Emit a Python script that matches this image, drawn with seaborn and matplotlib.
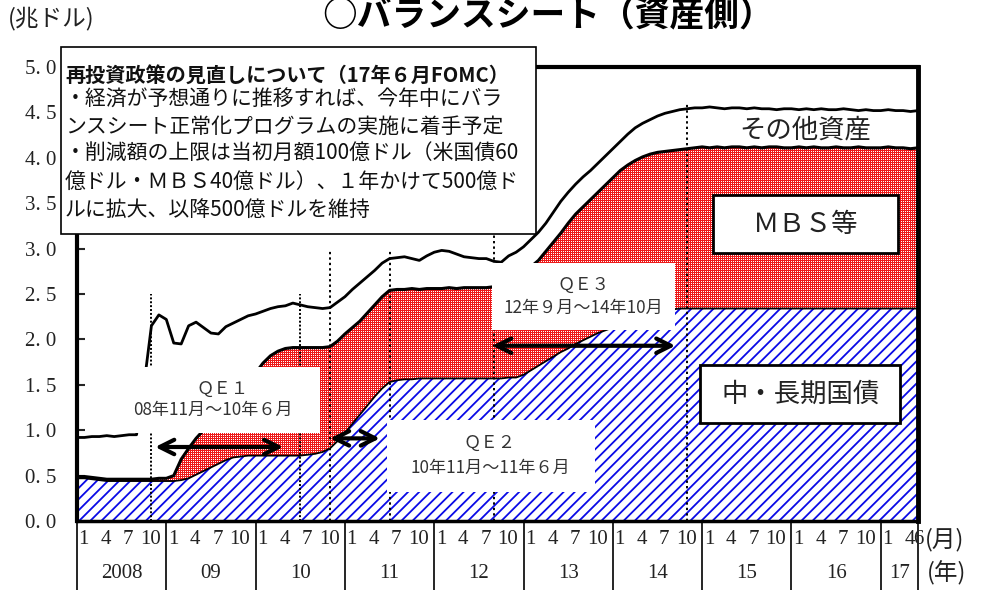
import numpy as np
import pandas as pd
import matplotlib
matplotlib.use("Agg")
import matplotlib.pyplot as plt
import seaborn as sns
from matplotlib.patches import Rectangle

sns.set_theme(style="white")
plt.rcParams['font.family'] = ['Noto Sans CJK JP', 'DejaVu Sans']
SERIF = ['Liberation Serif', 'DejaVu Serif']

# ---- data (trillion USD, monthly, Jan 2008 - Jun 2017) ----
years = ["2008", "09", "10", "11", "12", "13", "14", "15", "16", "17"]
month_marks = [1, 4, 7, 10]

# Treasury notes & bonds
tsy = [
    0.47, 0.47, 0.46, 0.45, 0.44, 0.44, 0.44, 0.44, 0.44, 0.44, 0.44, 0.44,  # 2008
    0.44, 0.44, 0.45, 0.47, 0.51, 0.55, 0.59, 0.63, 0.67, 0.70, 0.71, 0.72,  # 2009
    0.72, 0.72, 0.72, 0.72, 0.72, 0.72, 0.72, 0.73, 0.74, 0.76, 0.80, 0.88,  # 2010
    0.97, 1.07, 1.17, 1.27, 1.37, 1.46, 1.53, 1.55, 1.56, 1.56, 1.57, 1.57,  # 2011
    1.57, 1.57, 1.57, 1.57, 1.57, 1.57, 1.57, 1.57, 1.57, 1.57, 1.58, 1.58,  # 2012
    1.61, 1.66, 1.71, 1.76, 1.81, 1.86, 1.90, 1.95, 1.99, 2.03, 2.07, 2.10,  # 2013
    2.13, 2.16, 2.19, 2.22, 2.25, 2.27, 2.29, 2.31, 2.33, 2.34, 2.34, 2.34,  # 2014
    2.34, 2.34, 2.34, 2.34, 2.34, 2.34, 2.34, 2.34, 2.34, 2.34, 2.34, 2.34,  # 2015
    2.34, 2.34, 2.34, 2.34, 2.34, 2.34, 2.34, 2.34, 2.34, 2.34, 2.34, 2.34,  # 2016
    2.34, 2.34, 2.34, 2.34, 2.34, 2.34,                                      # 2017
]

# Treasuries + MBS and agency debt (cumulative)
tsy_mbs = [
    0.49, 0.49, 0.48, 0.47, 0.46, 0.46, 0.46, 0.46, 0.46, 0.46, 0.46, 0.47,  # 2008
    0.47, 0.50, 0.68, 0.80, 0.91, 1.00, 1.09, 1.18, 1.27, 1.36, 1.45, 1.54,  # 2009
    1.63, 1.74, 1.82, 1.87, 1.90, 1.91, 1.91, 1.91, 1.91, 1.91, 1.92, 1.98,  # 2010
    2.06, 2.13, 2.20, 2.29, 2.38, 2.47, 2.54, 2.55, 2.55, 2.56, 2.55, 2.56,  # 2011
    2.56, 2.56, 2.57, 2.56, 2.57, 2.57, 2.57, 2.57, 2.58, 2.60, 2.64, 2.69,  # 2012
    2.74, 2.80, 2.87, 2.97, 3.07, 3.17, 3.28, 3.38, 3.46, 3.54, 3.62, 3.70,  # 2013
    3.78, 3.86, 3.92, 3.97, 4.01, 4.04, 4.06, 4.07, 4.08, 4.09, 4.10, 4.11,  # 2014
    4.12, 4.11, 4.12, 4.11, 4.12, 4.12, 4.11, 4.12, 4.11, 4.12, 4.12, 4.11,  # 2015
    4.11, 4.12, 4.11, 4.12, 4.11, 4.11, 4.12, 4.11, 4.11, 4.12, 4.11, 4.11,  # 2016
    4.11, 4.12, 4.11, 4.11, 4.10, 4.11,                                      # 2017
]

# Total assets
total = [
    0.92, 0.92, 0.93, 0.93, 0.94, 0.93, 0.94, 0.95, 0.95, 1.50, 2.15, 2.27,  # 2008
    2.22, 1.96, 1.95, 2.15, 2.19, 2.13, 2.07, 2.06, 2.14, 2.18, 2.22, 2.26,  # 2009
    2.28, 2.31, 2.34, 2.36, 2.37, 2.40, 2.38, 2.36, 2.35, 2.34, 2.35, 2.41,  # 2010
    2.47, 2.55, 2.62, 2.69, 2.76, 2.84, 2.89, 2.90, 2.91, 2.89, 2.87, 2.92,  # 2011
    2.96, 2.98, 2.97, 2.94, 2.91, 2.90, 2.89, 2.89, 2.86, 2.85, 2.92, 2.96,  # 2012
    3.02, 3.10, 3.18, 3.28, 3.40, 3.52, 3.62, 3.71, 3.79, 3.86, 3.94, 4.02,  # 2013
    4.10, 4.18, 4.26, 4.33, 4.38, 4.42, 4.46, 4.49, 4.51, 4.53, 4.54, 4.55,  # 2014
    4.55, 4.56, 4.55, 4.54, 4.55, 4.55, 4.54, 4.55, 4.54, 4.54, 4.53, 4.54,  # 2015
    4.54, 4.53, 4.54, 4.53, 4.54, 4.53, 4.53, 4.54, 4.53, 4.52, 4.53, 4.52,  # 2016
    4.52, 4.53, 4.52, 4.52, 4.51, 4.52,                                      # 2017
]

# QE programmes: label, period, first and last month boundary
qe_names = ["ＱＥ１", "ＱＥ２", "ＱＥ３"]
qe_periods = ["08年11月～10年６月", "10年11月～11年６月", "12年９月～14年10月"]
qe_start = [10, 34, 56]
qe_end = [30, 42, 82]

df = pd.DataFrame({"month": np.arange(len(total)), "tsy": tsy,
                   "tsy_mbs": tsy_mbs, "total": total})
xmax = len(total) - 1
YMAX = 5.0

# ---- figure ----
W, H = 982, 590
AX_L, AX_R, AX_T, AX_B = 77, 918, 67, 521
fig = plt.figure(figsize=(W / 100, H / 100), dpi=100)
ax = fig.add_axes([AX_L / W, (H - AX_B) / H, (AX_R - AX_L) / W, (AX_B - AX_T) / H])
ax.set_xlim(0, xmax)
ax.set_ylim(0, YMAX)

x = df["month"].to_numpy()
# treasuries: blue diagonal hatch
with plt.rc_context({"hatch.linewidth": 1.3}):
    blue = ax.fill_between(x, 0, df["tsy"], facecolor="white", edgecolor="#0a0ae6",
                           hatch="///", linewidth=0, zorder=1)
if hasattr(blue, "set_hatch_linewidth"):
    blue.set_hatch_linewidth(1.3)

# MBS band: fine red/white check texture clipped to the band
band = ax.fill_between(x, df["tsy"], df["tsy_mbs"], facecolor="none",
                       linewidth=0, zorder=1)
hp, wp = AX_B - AX_T, AX_R - AX_L
yy, xx = np.mgrid[0:hp, 0:wp]
tex = np.empty((hp, wp, 3))
tex[:] = (0.93, 0.10, 0.10)
tex[(xx % 2 == 0) & (yy % 2 == 0)] = (1.0, 1.0, 1.0)
im = ax.imshow(tex, extent=(0, xmax, 0, YMAX), aspect="auto",
               interpolation="nearest", origin="upper", zorder=1)
im.set_clip_path(band.get_paths()[0], transform=ax.transData)
ax.set_xlim(0, xmax)
ax.set_ylim(0, YMAX)

sns.lineplot(data=df, x="month", y="tsy", color="black", lw=1.3, ax=ax, zorder=3)
sns.lineplot(data=df, x="month", y="tsy_mbs", color="black", lw=2.2, ax=ax, zorder=3)
sns.lineplot(data=df, x="month", y="total", color="black", lw=2.0, ax=ax, zorder=3)

# programme boundary lines
vl_top = [2.5, 2.5, 3.0, 3.0, 3.3, 4.6]
vl_x = [qe_start[0], qe_end[0], qe_start[1], qe_end[1], qe_start[2], qe_end[2]]
for i, (vx, vt) in enumerate(zip(vl_x, vl_top)):
    ls = (0, (1, 1)) if i < 2 else (0, (1.2, 1.6))
    ax.plot([vx, vx], [0, vt], color="black", lw=1.4, ls=ls, zorder=4)

# white label panels for each programme
panels = [((6.45, 0.97), 26.2, 0.73), ((41.7, 0.32), 27.9, 0.79), ((55.8, 2.10), 24.6, 0.74)]
name_pos = [(19.5, 1.46), (55.5, 0.86), (68.0, 2.60)]
period_pos = [(18.3, 1.22), (55.5, 0.59), (68.0, 2.35)]
for k in range(3):
    (px, py), pw, ph = panels[k]
    ax.add_patch(Rectangle((px, py), pw, ph, facecolor="white", edgecolor="none", zorder=5))
    ax.text(*name_pos[k], qe_names[k], ha="center", va="center", fontsize=12.5,
            color="#333333", zorder=7)
    ax.text(*period_pos[k], qe_periods[k], ha="center", va="center", fontsize=12.3,
            color="#333333", zorder=7)

# double-headed arrows spanning each programme
arrows = [(10.5, 27.7, 0.815), (34.0, 40.7, 0.91), (55.8, 80.4, 1.93)]
for a0, a1, ay in arrows:
    ax.annotate("", xy=(a1, ay), xytext=(a0, ay),
                arrowprops=dict(arrowstyle="<->", lw=3, color="black",
                                mutation_scale=26, shrinkA=0, shrinkB=0),
                zorder=6)

# series labels
ax.text(97.8, 4.31, "その他資産", ha="center", va="center", fontsize=19, color="#222222", zorder=7)
ax.add_patch(Rectangle((85.5, 2.95), 24.8, 0.64, facecolor="white", edgecolor="black",
                       lw=2, zorder=5))
ax.text(97.9, 3.27, "ＭＢＳ等", ha="center", va="center", fontsize=19, color="#222222", zorder=7)
ax.add_patch(Rectangle((83.7, 1.08), 26.9, 0.64, facecolor="white", edgecolor="black",
                       lw=2, zorder=5))
ax.text(97.2, 1.40, "中・長期国債", ha="center", va="center", fontsize=19, color="#222222", zorder=7)

# axes styling
ax.set_xticks([])
yt = np.arange(0, 5.01, 0.5)
ax.set_yticks(yt)
ax.set_yticklabels([f"{v:.1f}".replace(".", ". ") for v in yt],
                   family=SERIF, fontsize=15, color="#222222")
ax.tick_params(axis="y", direction="in", length=6, width=1.5, pad=15, left=True)
ax.set_xlabel("")
ax.set_ylabel("")
for side, lw in [("left", 3), ("top", 3), ("right", 3.5), ("bottom", 2.5)]:
    ax.spines[side].set_visible(True)
    ax.spines[side].set_linewidth(lw)
    ax.spines[side].set_color("black")
    ax.spines[side].set_zorder(8)

# date table under the plot
trans = ax.get_xaxis_transform()
ph_ax = AX_B - AX_T
y_month = -(540 - AX_B) / ph_ax
y_year = -(573 - AX_B) / ph_ax
y_bot = -(592 - AX_B) / ph_ax
for k, yr in enumerate(years):
    x0 = 12 * k
    x1 = min(12 * (k + 1), xmax)
    ax.plot([x0, x0], [0, y_bot], transform=trans, clip_on=False, color="black", lw=1.2)
    ax.text((x0 + x1) / 2, y_year, yr, transform=trans, ha="center", va="center",
            family=SERIF, fontsize=15, color="#222222")
    for m in month_marks:
        if x0 + m - 1 < xmax - 1:
            ax.text(x0 + m - 0.1, y_month, str(m), transform=trans, ha="center",
                    va="center", family=SERIF, fontsize=15, color="#222222")
ax.plot([xmax, xmax], [0, y_bot], transform=trans, clip_on=False, color="black", lw=1.2)
ax.text(xmax + 0.1, y_month, "6", transform=trans, ha="center", va="center",
        family=SERIF, fontsize=15, color="#222222")
fig.text(925 / W, 1 - 540 / H, "(月)", ha="left", va="center", fontsize=17, color="#222222")
fig.text(927 / W, 1 - 573 / H, "(年)", ha="left", va="center", fontsize=17, color="#222222")

# titles
fig.text(548 / W, 1 - 16 / H, "○バランスシート（資産側）", ha="center", va="center",
         fontsize=25, fontweight="bold", color="black")
fig.text(8 / W, 1 - 19 / H, "(兆ドル)", ha="left", va="center", fontsize=17, color="#222222")

# policy note box
fig.add_artist(Rectangle((61 / W, 1 - 234 / H), (536 - 61) / W, (234 - 47) / H,
                         transform=fig.transFigure, facecolor="white",
                         edgecolor="black", lw=1.2, zorder=10))
note_lines = [
    ("再投資政策の見直しについて（17年６月FOMC）", 75, "bold", 14.5),
    ("・経済が予想通りに推移すれば、今年中にバラ", 100, "normal", 15),
    ("ンスシート正常化プログラムの実施に着手予定", 127, "normal", 15),
    ("・削減額の上限は当初月額100億ドル（米国債60", 154, "normal", 15),
    ("億ドル・ＭＢＳ40億ドル）、１年かけて500億ド", 182, "normal", 15),
    ("ルに拡大、以降500億ドルを維持", 210, "normal", 15),
]
for txt, yy_, wt, fs in note_lines:
    fig.text(65 / W, 1 - yy_ / H, txt, ha="left", va="center", fontsize=fs,
             fontweight=wt, color="#111111", zorder=11)

fig.savefig("out.png", dpi=100)
